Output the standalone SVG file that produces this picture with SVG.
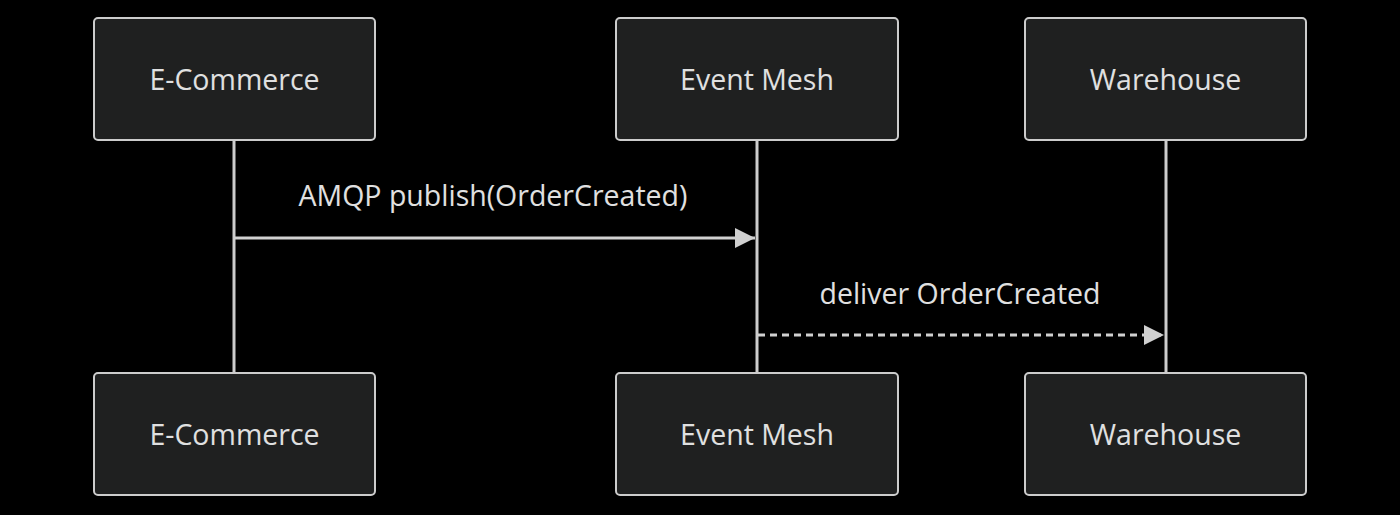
<svg xmlns="http://www.w3.org/2000/svg" width="1400" height="515" viewBox="0 0 1400 515">
<style>
.box{fill:#1f2020;stroke:#cccccc;stroke-width:2}
.lbl{font-family:"Open Sans","DejaVu Sans",sans-serif;font-size:28.5px;fill:#e0e0e0;text-anchor:middle}
.life{stroke:#cccccc;stroke-width:3}
.msg{stroke:#d0d0d0;stroke-width:3;fill:none}
</style>
<defs>
<marker id="ah" viewBox="0 0 20 20" refX="20" refY="10" markerUnits="userSpaceOnUse" markerWidth="20" markerHeight="20" orient="auto">
<path d="M0,0 L20,10 L0,20 z" fill="#d0d0d0"/>
</marker>
</defs>
<rect width="1400" height="515" fill="#000000"/>
<g id="lifelines">
<line class="life" x1="234" y1="140" x2="234" y2="373"/>
<line class="life" x1="757" y1="140" x2="757" y2="373"/>
<line class="life" x1="1166" y1="140" x2="1166" y2="373"/>
</g>
<g id="ecommerce-top"><rect class="box" x="94" y="18" width="281" height="122" rx="4"/><text class="lbl" x="234.5" y="90">E-Commerce</text></g>
<g id="eventmesh-top"><rect class="box" x="616" y="18" width="282" height="122" rx="4"/><text class="lbl" x="757" y="90">Event Mesh</text></g>
<g id="warehouse-top"><rect class="box" x="1025" y="18" width="281" height="122" rx="4"/><text class="lbl" x="1165.5" y="90">Warehouse</text></g>
<g id="ecommerce-bottom"><rect class="box" x="94" y="373" width="281" height="122" rx="4"/><text class="lbl" x="234.5" y="445">E-Commerce</text></g>
<g id="eventmesh-bottom"><rect class="box" x="616" y="373" width="282" height="122" rx="4"/><text class="lbl" x="757" y="445">Event Mesh</text></g>
<g id="warehouse-bottom"><rect class="box" x="1025" y="373" width="281" height="122" rx="4"/><text class="lbl" x="1165.5" y="445">Warehouse</text></g>
<g id="connectors">
<line class="msg" x1="234" y1="238" x2="755" y2="238" marker-end="url(#ah)"/>
<text class="lbl" x="493" y="206">AMQP publish(OrderCreated)</text>
<line class="msg" x1="758" y1="335" x2="1164" y2="335" stroke-dasharray="7,5" marker-end="url(#ah)"/>
<text class="lbl" x="960" y="304">deliver OrderCreated</text>
</g>
</svg>
